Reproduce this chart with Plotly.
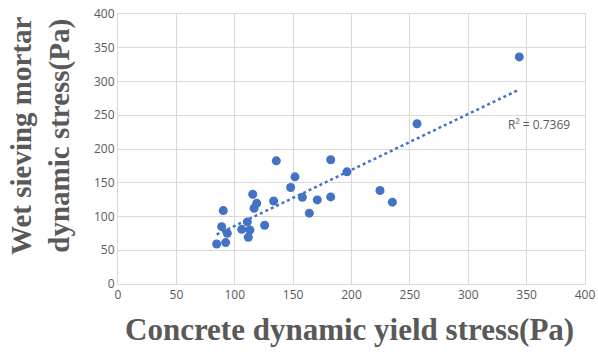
import numpy as np
import plotly.graph_objects as go

concrete_yield = [84.5, 92.2, 88.8, 90.2, 93.6, 106.0, 110.8, 113.0, 111.6, 115.4,
                  116.5, 118.8, 125.6, 133.3, 135.6, 147.9, 151.6, 157.9, 163.9, 170.7,
                  182.2, 196.1, 182.2, 224.4, 235.0, 256.1, 343.7]
mortar_stress = [59.3, 61.3, 85.0, 108.8, 75.2, 81.0, 92.0, 80.0, 69.3, 133.0,
                 112.3, 119.7, 87.0, 123.0, 182.5, 143.0, 158.8, 128.6, 104.9, 124.6,
                 184.0, 166.2, 129.0, 138.5, 121.2, 237.4, 336.4]
x_ticks = [0, 50, 100, 150, 200, 250, 300, 350, 400]
y_ticks = [0, 50, 100, 150, 200, 250, 300, 350, 400]
r2_label = "R² = 0.7369"

blue = "#4472C4"
gray_text = "#595959"
grid = "#D9D9D9"

x = np.array(concrete_yield)
y = np.array(mortar_stress)
slope, intercept = np.polyfit(x, y, 1)
tx = np.array([x.min(), x.max()])
ty = slope * tx + intercept

fig = go.Figure()
fig.add_trace(go.Scatter(x=concrete_yield, y=mortar_stress, mode="markers",
                         marker=dict(color=blue, size=9), showlegend=False))
fig.add_trace(go.Scatter(x=tx, y=ty, mode="lines",
                         line=dict(color=blue, width=2.5, dash="dot"), showlegend=False))

fig.add_annotation(x=361, y=237, xref="x", yref="y", text=r2_label, showarrow=False,
                   font=dict(family="Open Sans", size=12, color=gray_text))

fig.add_annotation(x=-0.166, y=0.55, xref="paper", yref="paper",
                   xanchor="center", yanchor="middle",
                   text="<b>Wet sieving mortar<br>dynamic stress(Pa)</b>", textangle=-90,
                   showarrow=False,
                   font=dict(family="Liberation Serif", size=29, color=gray_text))
fig.add_annotation(x=0.495, y=-0.17, xref="paper", yref="paper",
                   xanchor="center", yanchor="middle",
                   text="<b>Concrete dynamic yield stress(Pa)</b>", showarrow=False,
                   font=dict(family="Liberation Serif", size=31, color=gray_text))

axis_common = dict(showgrid=True, gridcolor=grid, gridwidth=1, zeroline=False,
                   showline=True, linecolor=grid, linewidth=1, mirror=True,
                   automargin=False, ticklabeloverflow="allow",
                   ticks="", tickfont=dict(family="Open Sans", size=12, color=gray_text))
fig.update_xaxes(range=[0, 400], tickvals=x_ticks, **axis_common)
fig.update_yaxes(range=[0, 400], tickvals=y_ticks, **axis_common)

fig.update_layout(width=598, height=358, paper_bgcolor="white", plot_bgcolor="white",
                  margin=dict(l=118, r=13, t=14, b=74))
fig.write_html("out.html", config={"displayModeBar": False},
               post_script="document.body.style.margin='0';document.body.style.overflow='hidden';")
